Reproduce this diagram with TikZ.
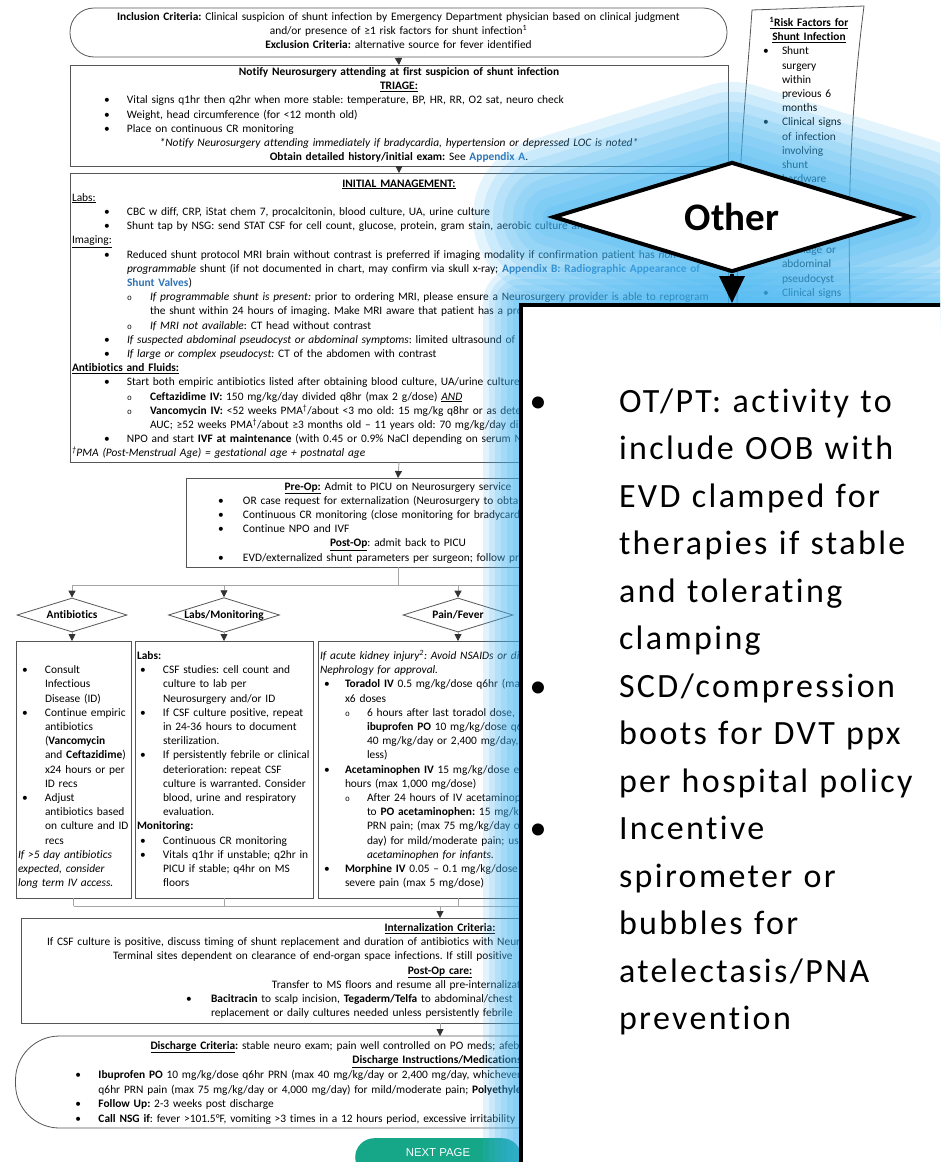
\documentclass[tikz,border=0pt]{standalone}
\usepackage{fontspec}
\setmainfont{Carlito}[Ligatures=NoCommon]
\newfontfamily\monof{Liberation Mono}
\newfontfamily\arialf{Liberation Sans}
\usetikzlibrary{shapes.geometric,arrows.meta}
\setlength\parindent{0pt}
\frenchspacing

\definecolor{boxline}{RGB}{85,85,85}
\definecolor{connline}{RGB}{165,165,165}
\definecolor{linkblue}{RGB}{46,116,181}
\definecolor{glowblue}{RGB}{63,180,243}
\definecolor{btnteal}{RGB}{22,166,136}

% body text of the flowchart
\newcommand\dgfont{\fontsize{11.4}{14.2}\selectfont}
% line helpers: centred line, indented line, bullet line, sub-bullet line
\newcommand\Cen[1]{\makebox[\linewidth][c]{\strut#1}}
\newcommand\Ln[2]{\hspace*{#1}\mbox{\strut#2}}
\newcommand\Bu[3]{\hspace*{#1}\makebox[#2][l]{\strut\textbullet}\mbox{#3}}
\newcommand\Sb[3]{\hspace*{#1}\makebox[#2][l]{\strut{\monof\fontsize{8}{8}\selectfont o}}\mbox{#3}}
% large type of the enlarged branch
\newcommand\bigfont{\fontsize{34}{47.5}\selectfont}

\begin{document}
\begin{tikzpicture}[x=1pt,y=-1pt,
  box/.style={draw=boxline, line width=0.8pt, inner sep=0pt, outer sep=0pt},
  tx/.style={anchor=north west, inner sep=0pt, outer sep=0pt, align=left, font=\dgfont},
  conn/.style={draw=connline, line width=0.9pt},
  arr/.style={conn, -{Triangle[width=7pt,length=7pt,color=black!80]}},
  choice/.style={diamond, draw=boxline, line width=0.8pt, fill=white, minimum width=110pt,
    minimum height=34pt, shape aspect=3.2, inner sep=0pt, font=\dgfont\bfseries},
  bigbullet/.style={anchor=base, inner sep=0pt, font=\bigfont}]

\useasboundingbox (0,0) rectangle (940,1162);
\clip (0,0) rectangle (940,1162);
\fill[white] (0,0) rectangle (940,1162);

% ---------------- pathway boxes ----------------
\node[box, rounded corners=24pt, anchor=north west, minimum width=657pt, minimum height=49pt] (incl) at (70,8) {};
\node[tx, text width=657pt] (incltext) at (70,10.06) {%
\Cen{\textbf{Inclusion Criteria:} Clinical suspicion of shunt infection by Emergency Department physician based on clinical judgment}\\
\Cen{and/or presence of ≥1 risk factors for shunt infection\textsuperscript{1}}\\
\Cen{\textbf{Exclusion Criteria:} alternative source for fever identified}};

\node[box, anchor=north west, minimum width=658pt, minimum height=101pt] (triage) at (70,65) {};
\node[tx, text width=654pt] (triagetext) at (72,65.56) {%
\Cen{\textbf{Notify Neurosurgery attending at first suspicion of shunt infection}}\\
\Cen{\underline{\textbf{TRIAGE:}}}\\
\Bu{32pt}{23pt}{Vital signs q1hr then q2hr when more stable: temperature, BP, HR, RR, O2 sat, neuro check}\\
\Bu{32pt}{23pt}{Weight, head circumference (for <12 month old)}\\
\Bu{32pt}{23pt}{Place on continuous CR monitoring}\\
\Cen{\itshape *Notify Neurosurgery attending immediately if bradycardia, hypertension or depressed LOC is noted*}\\
\Cen{\textbf{Obtain detailed history/initial exam:} See \textcolor{linkblue}{\textbf{Appendix A}}.}};

\node[box, anchor=north west, minimum width=658pt, minimum height=289pt] (initial) at (70,173) {};
\node[tx, text width=654pt] (initialtext) at (72,177.06) {%
\Cen{\underline{\textbf{INITIAL MANAGEMENT:}}}\\
\Ln{0pt}{\underline{Labs:}}\\
\Bu{32pt}{23pt}{CBC w diff, CRP, iStat chem 7, procalcitonin, blood culture, UA, urine culture}\\
\Bu{32pt}{23pt}{Shunt tap by NSG: send STAT CSF for cell count, glucose, protein, gram stain, aerobic culture and anaerobic culture}\\
\Ln{0pt}{\underline{Imaging:}}\\
\Bu{32pt}{23pt}{Reduced shunt protocol MRI brain without contrast is preferred if imaging modality if confirmation patient has \textit{non-}}\\
\Ln{55pt}{\textit{programmable} shunt (if not documented in chart, may confirm via skull x-ray; \textcolor{linkblue}{\textbf{Appendix B: Radiographic Appearance of}}}\\
\Ln{55pt}{\textcolor{linkblue}{\textbf{Shunt Valves}})}\\
\Sb{55pt}{23pt}{\textit{If programmable shunt is present:} prior to ordering MRI, please ensure a Neurosurgery provider is able to reprogram}\\
\Ln{78pt}{the shunt within 24 hours of imaging. Make MRI aware that patient has a pro}\\
\Sb{55pt}{23pt}{\textit{If MRI not available}: CT head without contrast}\\
\Bu{32pt}{23pt}{\textit{If suspected abdominal pseudocyst or abdominal symptoms}: limited ultrasound of}\\
\Bu{32pt}{23pt}{\textit{If large or complex pseudocyst:} CT of the abdomen with contrast}\\
\Ln{0pt}{\underline{\textbf{Antibiotics and Fluids:}}}\\
\Bu{32pt}{23pt}{Start both empiric antibiotics listed after obtaining blood culture, UA/urine culture}\\
\Sb{55pt}{23pt}{\textbf{Ceftazidime IV:} 150 mg/kg/day divided q8hr (max 2 g/dose) \underline{\textit{AND}}}\\
\Sb{55pt}{23pt}{\textbf{Vancomycin IV:} <52 weeks PMA\textsuperscript{†}/about <3 mo old: 15 mg/kg q8hr or as dete}\\
\Ln{78pt}{AUC; ≥52 weeks PMA\textsuperscript{†}/about ≥3 months old – 11 years old: 70 mg/kg/day di}\\
\Bu{32pt}{23pt}{NPO and start \textbf{IVF at maintenance} (with 0.45 or 0.9\% NaCl depending on serum Na}\\
\Ln{0pt}{\textit{\textsuperscript{†}PMA (Post-Menstrual Age) = gestational age + postnatal age}}};

\node[box, anchor=north west, minimum width=424pt, minimum height=89pt] (preop) at (186,478) {};
\node[tx, text width=420pt] (preoptext) at (188,480.06) {%
\Cen{\underline{\textbf{Pre-Op:}} Admit to PICU on Neurosurgery service}\\
\Bu{30pt}{25pt}{OR case request for externalization (Neurosurgery to obtain}\\
\Bu{30pt}{25pt}{Continuous CR monitoring (close monitoring for bradycardia}\\
\Bu{30pt}{25pt}{Continue NPO and IVF}\\
\Cen{\underline{\textbf{Post-Op}}: admit back to PICU}\\
\Bu{30pt}{25pt}{EVD/externalized shunt parameters per surgeon; follow pro}};

% branch choices
\node[choice] (abx) at (72,615) {Antibiotics};
\node[choice] (labs) at (224,615) {Labs/Monitoring};
\node[choice] (pain) at (458,615) {Pain/Fever};

\node[box, anchor=north west, minimum width=115pt, minimum height=257pt] (abxbox) at (16,641) {};
\node[tx, text width=111pt] (abxtext) at (18,649.56) {%
\strut\\
\Bu{4pt}{23pt}{Consult}\\
\Ln{27pt}{Infectious}\\
\Ln{27pt}{Disease (ID)}\\
\Bu{4pt}{23pt}{Continue empiric}\\
\Ln{27pt}{antibiotics}\\
\Ln{27pt}{(\textbf{Vancomycin}}\\
\Ln{27pt}{and \textbf{Ceftazidime})}\\
\Ln{27pt}{x24 hours or per}\\
\Ln{27pt}{ID recs}\\
\Bu{4pt}{23pt}{Adjust}\\
\Ln{27pt}{antibiotics based}\\
\Ln{27pt}{on culture and ID}\\
\Ln{27pt}{recs}\\
\Ln{0pt}{\textit{If >5 day antibiotics}}\\
\Ln{0pt}{\textit{expected, consider}}\\
\Ln{0pt}{\textit{long term IV access.}}};

\node[box, anchor=north west, minimum width=178pt, minimum height=257pt] (labsbox) at (135,641) {};
\node[tx, text width=174pt] (labstext) at (137,649.56) {%
\Ln{0pt}{\textbf{Labs:}}\\
\Bu{3pt}{23pt}{CSF studies: cell count and}\\
\Ln{26pt}{culture to lab per}\\
\Ln{26pt}{Neurosurgery and/or ID}\\
\Bu{3pt}{23pt}{If CSF culture positive, repeat}\\
\Ln{26pt}{in 24-36 hours to document}\\
\Ln{26pt}{sterilization.}\\
\Bu{3pt}{23pt}{If persistently febrile or clinical}\\
\Ln{26pt}{deterioration: repeat CSF}\\
\Ln{26pt}{culture is warranted. Consider}\\
\Ln{26pt}{blood, urine and respiratory}\\
\Ln{26pt}{evaluation.}\\
\Ln{0pt}{\textbf{Monitoring:}}\\
\Bu{3pt}{23pt}{Continuous CR monitoring}\\
\Bu{3pt}{23pt}{Vitals q1hr if unstable; q2hr in}\\
\Ln{26pt}{PICU if stable; q4hr on MS}\\
\Ln{26pt}{floors}};

\node[box, anchor=north west, minimum width=280pt, minimum height=257pt] (painbox) at (318,641) {};
\node[tx, text width=276pt] (paintext) at (320,649.56) {%
\Ln{0pt}{\textit{If acute kidney injury\textsuperscript{2}: Avoid NSAIDs or dis}}\\
\Ln{0pt}{\textit{Nephrology for approval.}}\\
\Bu{4pt}{21pt}{\textbf{Toradol IV} 0.5 mg/kg/dose q6hr (max}\\
\Ln{25pt}{x6 doses}\\
\Sb{25pt}{22pt}{6 hours after last toradol dose, sw}\\
\Ln{47pt}{\textbf{ibuprofen PO} 10 mg/kg/dose q6hr}\\
\Ln{47pt}{40 mg/kg/day or 2,400 mg/day, wh}\\
\Ln{47pt}{less)}\\
\Bu{4pt}{21pt}{\textbf{Acetaminophen IV} 15 mg/kg/dose ev}\\
\Ln{25pt}{hours (max 1,000 mg/dose)}\\
\Sb{25pt}{22pt}{After 24 hours of IV acetaminophen}\\
\Ln{47pt}{to \textbf{PO acetaminophen:} 15 mg/kg}\\
\Ln{47pt}{PRN pain; (max 75 mg/kg/day or}\\
\Ln{47pt}{day) for mild/moderate pain; use}\\
\Ln{47pt}{\textit{acetaminophen for infants.}}\\
\Bu{4pt}{21pt}{\textbf{Morphine IV} 0.05 – 0.1 mg/kg/dose f}\\
\Ln{25pt}{severe pain (max 5 mg/dose)}};

\node[box, anchor=north west, minimum width=838pt, minimum height=105pt] (internal) at (21,918) {};
\node[tx, text width=838pt] (internaltext) at (21,921.56) {%
\Cen{\underline{\textbf{Internalization Criteria:}}}\\
\Ln{26pt}{If CSF culture is positive, discuss timing of shunt replacement and duration of antibiotics with Neuro}\\
\Ln{92pt}{Terminal sites dependent on clearance of end-organ space infections. If still positive}\\
\Cen{\underline{\textbf{Post-Op care:}}}\\
\Ln{251pt}{Transfer to MS floors and resume all pre-internalizat}\\
\Bu{165pt}{25pt}{\textbf{Bacitracin} to scalp incision, \textbf{Tegaderm/Telfa} to abdominal/chest}\\
\Ln{190pt}{replacement or daily cultures needed unless persistently febrile}};

\node[box, rounded corners=44pt, anchor=north west, minimum width=849pt, minimum height=92pt] (discharge) at (15.5,1036) {};
\node[tx, text width=849pt, font=\fontsize{11.4}{14.7}\selectfont] (dischargetext) at (15.5,1038.71) {%
\Ln{135pt}{\underline{\textbf{Discharge Criteria}}\textbf{:} stable neuro exam; pain well controlled on PO meds; afebr}\\
\Ln{337pt}{\underline{\textbf{Discharge Instructions/Medications:}}}\\
\Bu{60pt}{23pt}{\textbf{Ibuprofen PO} 10 mg/kg/dose q6hr PRN (max 40 mg/kg/day or 2,400 mg/day, whichever}\\
\Ln{83pt}{q6hr PRN pain (max 75 mg/kg/day or 4,000 mg/day) for mild/moderate pain; \textbf{Polyethylene}}\\
\Bu{60pt}{23pt}{\textbf{Follow Up:} 2-3 weeks post discharge}\\
\Bu{60pt}{23pt}{\textbf{Call NSG if}: fever >101.5°F, vomiting >3 times in a 12 hours period, excessive irritability}};

% risk factor sidebar
\draw[box] (737,330) .. controls (737,160) and (746,100) .. (752,10) -- (864,6)
  .. controls (852,100) and (846,200) .. (851,330);
\node[tx, text width=108pt] (risktext) at (755,16.56) {%
\Cen{\underline{\textbf{\textsuperscript{1}Risk Factors for}}}\\
\Cen{\underline{\textbf{Shunt Infection}}}\\
\Bu{8pt}{19pt}{Shunt}\\
\Ln{27pt}{surgery}\\
\Ln{27pt}{within}\\
\Ln{27pt}{previous 6}\\
\Ln{27pt}{months}\\
\Bu{8pt}{19pt}{Clinical signs}\\
\Ln{27pt}{of infection}\\
\Ln{27pt}{involving}\\
\Ln{27pt}{shunt}\\
\Ln{27pt}{hardware}\\
\strut\\ \strut\\ \strut\\ \strut\\
\Ln{27pt}{drainage or}\\
\Ln{27pt}{abdominal}\\
\Ln{27pt}{pseudocyst}\\
\Bu{8pt}{19pt}{Clinical signs}};

% next page button
\node[fill=btnteal, rounded corners=19pt, minimum width=166pt, minimum height=38pt, anchor=north west, inner sep=0pt] (nextbtn) at (355,1138) {};
\node[font=\arialf\fontsize{11.4}{12}\selectfont, text=white, inner sep=0pt] (nexttext) at (438,1153) {NEXT PAGE};

% connectors
\coordinate (busA) at (398,585);
\coordinate (busB) at (440,906);
\draw[arr] (incl.south) -- (triage.north);
\draw[arr] (triage.south) -- (initial.north);
\draw[arr] (initial.south) -- (preop.north);
\draw[conn] (preop.south) -- (busA);
\draw[conn] (abx.north |- busA) -- (700,585);
\draw[arr] (abx.north |- busA) -- (abx.north);
\draw[arr] (labs.north |- busA) -- (labs.north);
\draw[arr] (pain.north |- busA) -- (pain.north);
\draw[arr] (abx.south) -- (abx.south |- abxbox.north);
\draw[arr] (labs.south) -- (labs.south |- labsbox.north);
\draw[arr] (pain.south) -- (pain.south |- painbox.north);
\draw[conn] (abxbox.south) -- (abxbox.south |- busB);
\draw[conn] (labsbox.south) -- (labsbox.south |- busB);
\draw[conn] (painbox.south) -- (painbox.south |- busB);
\draw[conn] (abxbox.south |- busB) -- (700,906);
\draw[arr] (busB) -- (internal.north);
\draw[arr] (internal.south) -- (discharge.north);

% ---------------- highlight glow ----------------
\coordinate (oW) at (553,217);
\coordinate (oN) at (732,162);
\coordinate (oE) at (911,217);
\coordinate (oS) at (732,272);
\foreach \w in {20,40,60,80,100,120,140,160}
  \draw[glowblue, line width=\w pt, draw opacity=0.14, line join=round] (oW) -- (oN) -- (oE) -- (oS) -- cycle;
\foreach \w in {12,24,36,48,60,72}
  \draw[glowblue, line width=\w pt, draw opacity=0.15, line join=round] (519,1300) -- (519,303) -- (1100,303);

% ---------------- enlarged "Other" branch ----------------
\node[draw=black, line width=4pt, fill=white, anchor=north west, minimum width=520pt, minimum height=900pt, inner sep=0pt] (zoom) at (519,303) {};
\node[diamond, draw=black, line width=4pt, fill=white, minimum width=358pt, minimum height=110pt, shape aspect=3.25, inner sep=0pt,
  font=\bfseries\fontsize{39}{40}\selectfont] (other) at (732,217) {Other};
\draw[black, line width=3.5pt, -{Triangle[width=25pt,length=27pt]}] (other.south) -- (other.south |- zoom.north);

\node[bigbullet] (zb1) at (538,412) {\textbullet};
\node[bigbullet] (zb2) at (538,697) {\textbullet};
\node[bigbullet] (zb3) at (538,839.5) {\textbullet};
\node[tx, text width=320pt, font=\bigfont\addfontfeature{LetterSpace=7}] (zoomtext) at (619,378.75) {%
\strut OT/PT: activity to\\
\strut include OOB with\\
\strut EVD clamped for\\
\strut therapies if stable\\
\strut and tolerating\\
\strut clamping\\
\strut SCD/compression\\
\strut boots for DVT ppx\\
\strut per hospital policy\\
\strut Incentive\\
\strut spirometer or\\
\strut bubbles for\\
\strut atelectasis/PNA\\
\strut prevention};

\end{tikzpicture}
\end{document}
